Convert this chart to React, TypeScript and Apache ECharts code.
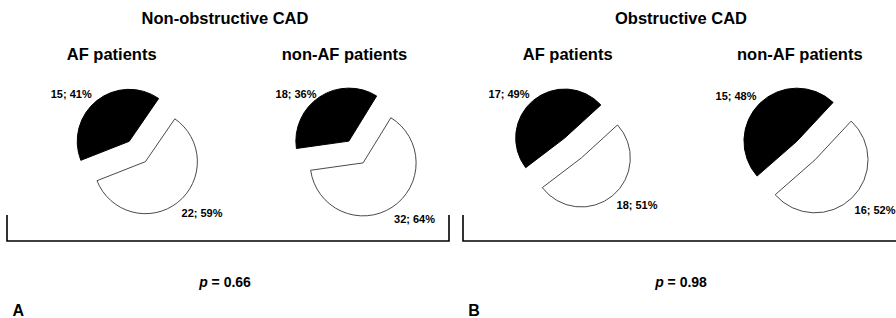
import React, { useEffect, useRef } from 'react';
import * as echarts from 'echarts';

// ---------- data ----------
const panelTitles = ['Non-obstructive CAD', 'Obstructive CAD'];
const cohortTitles = ['AF patients', 'non-AF patients'];
const panelLetters = ['A', 'B'];
const pValues = ['0.66', '0.98'];
const sliceNames = ['Other', 'Group'];
// per pie: [Non-obs AF, Non-obs non-AF, Obs AF, Obs non-AF]
const blackCounts = [15, 18, 17, 15];
const whiteCounts = [22, 32, 18, 16];

// ---------- layout (positions / sizes only) ----------
const FONT = '"Liberation Sans", Arial, Helvetica, sans-serif';
const pieLayout = [
  { cx: 137.3, cy: 151.5, r: 52, start: 55.5, labels: [[202, 213], [71.2, 93.5]] },
  { cx: 356, cy: 152, r: 53, start: 58.4, labels: [[414.5, 218.5], [296, 93.5]] },
  { cx: 573, cy: 148, r: 49, start: 42.4, labels: [[637, 204.5], [509, 94]] },
  { cx: 806, cy: 150.5, r: 53, start: 47, labels: [[875, 210], [736, 96]] },
];
const panelTitlePos = [[225, 17.5], [681, 17.5]];
const cohortTitlePos = [[111.7, 54], [344.5, 54], [567.7, 54], [799.8, 54]];
const pPos = [[225, 281.5], [681, 281.5]];
const letterPos = [[18.3, 310.5], [474, 310.5]];
const brackets = [
  [[7, 215], [7, 241], [449, 241], [449, 215]],
  [[463, 215], [463, 241], [900, 241], [900, 215]],
];

const whiteStyle = { color: '#ffffff', borderColor: '#4a4a4a', borderWidth: 1 };
const blackStyle = { color: '#000000', borderColor: '#000000', borderWidth: 1 };

function textEl(text: string, x: number, y: number, size: number, extra: any = {}) {
  return {
    type: 'text',
    x,
    y,
    silent: true,
    style: {
      text,
      fill: '#000',
      fontFamily: FONT,
      fontSize: size,
      fontWeight: 'bold',
      align: 'center',
      verticalAlign: 'middle',
      textAlign: 'center',
      textVerticalAlign: 'middle',
      ...extra,
    },
  };
}

function sliceLabel(value: number, total: number) {
  return `${value}; ${Math.round((value / total) * 100)}%`;
}

export default function App() {
  const ref = useRef<HTMLDivElement>(null);

  useEffect(() => {
    if (!ref.current) return;
    const chart = echarts.init(ref.current, undefined, { renderer: 'svg' });

    const series = pieLayout.map((pl, i) => ({
      type: 'pie',
      center: [pl.cx, pl.cy],
      radius: [0, pl.r],
      startAngle: pl.start,
      clockwise: true,
      selectedMode: 'multiple',
      selectedOffset: 13,
      avoidLabelOverlap: false,
      emphasis: { disabled: true },
      label: { show: false },
      labelLine: { show: false },
      data: [
        {
          name: sliceNames[0],
          value: whiteCounts[i],
          selected: true,
          itemStyle: whiteStyle,
          select: { itemStyle: whiteStyle },
        },
        {
          name: sliceNames[1],
          value: blackCounts[i],
          selected: true,
          itemStyle: blackStyle,
          select: { itemStyle: blackStyle },
        },
      ],
    }));

    const elements: any[] = [];
    panelTitles.forEach((t, i) => elements.push(textEl(t, panelTitlePos[i][0], panelTitlePos[i][1], 16.5)));
    cohortTitlePos.forEach((pos, i) => elements.push(textEl(cohortTitles[i % 2], pos[0], pos[1], 16.5)));
    pieLayout.forEach((pl, i) => {
      const total = whiteCounts[i] + blackCounts[i];
      elements.push(textEl(sliceLabel(whiteCounts[i], total), pl.labels[0][0], pl.labels[0][1], 11));
      elements.push(textEl(sliceLabel(blackCounts[i], total), pl.labels[1][0], pl.labels[1][1], 11));
    });
    pValues.forEach((v, i) =>
      elements.push(
        textEl(`{i|p} = ${v}`, pPos[i][0], pPos[i][1], 14, {
          rich: {
            i: { fontStyle: 'italic', fontWeight: 'bold', fontSize: 14, fontFamily: FONT, fill: '#000' },
          },
        })
      )
    );
    panelLetters.forEach((l, i) => elements.push(textEl(l, letterPos[i][0], letterPos[i][1], 16)));
    brackets.forEach((pts) =>
      elements.push({
        type: 'polyline',
        silent: true,
        shape: { points: pts },
        style: { stroke: '#000', lineWidth: 1.6, fill: 'none' },
      })
    );

    chart.setOption({
      animation: false,
      backgroundColor: '#ffffff',
      series,
      graphic: { elements },
    });

    return () => chart.dispose();
  }, []);

  return (
    <div
      ref={ref}
      style={{ position: 'fixed', left: 0, top: 0, width: 896, height: 318 }}
    />
  );
}
